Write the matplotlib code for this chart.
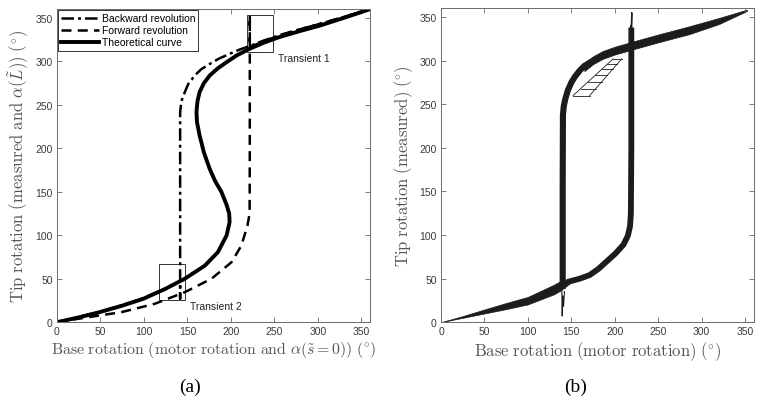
import numpy as np
import matplotlib
matplotlib.use('Agg')
import matplotlib.pyplot as plt
from matplotlib.patches import Rectangle

plt.rcParams['mathtext.fontset'] = 'cm'
plt.rcParams['font.family'] = 'Liberation Sans'

# ---- panel (a): theoretical curve and the two revolutions ----
theo_x = [0, 25, 49, 75, 99, 124, 147, 170, 185, 195, 198.5, 198, 195, 189, 182, 175.7,
          169, 164, 161, 160.4, 161.5, 164, 169, 175.7, 185, 195, 207, 221.7, 238, 256,
          280, 302, 330, 360]
theo_y = [0, 5.5, 11.5, 19, 26.8, 38, 50, 65, 80.5, 99.7, 115, 125, 135, 150, 162, 176,
          195, 214.7, 230, 241.6, 254, 264.7, 275, 283.8, 292, 299, 307, 314.5, 321.5, 328,
          335, 341, 350, 360]

back_x = [0, 25, 49, 75, 99, 124, 141.6, 141.6, 141.6, 141.6, 143, 147, 151, 158.5, 166,
          175.7, 186, 198.7, 210, 221.7, 238, 256, 280, 302, 330, 360]
back_y = [0, 6, 12, 19.5, 27.5, 38.5, 47, 27, 150, 241.6, 254, 264.7, 274, 283.8, 291,
          297, 303, 308.7, 313.5, 317.6, 324, 330, 337, 343, 351, 360]

fwd_x = [0, 35.7, 74, 112, 147, 177.7, 200.7, 212, 219, 221.5, 221.7, 221.7, 221.7,
         238, 256, 280, 302, 330, 360]
fwd_y = [0, 5.7, 11.5, 21, 34.5, 50, 69, 88, 111, 125, 200, 352.8, 316.5,
         323, 330, 337, 343, 351, 360]

transients = [(218, 311, 30, 42, 'Transient 1', 254, 304),
              (117, 25, 30, 42, 'Transient 2', 153, 19)]

# ---- panel (b): measured cycles (band envelopes and centre lines) ----
low_x = [0, 25, 50, 75, 100, 130, 137, 145, 150]
low_top = [0, 7, 14.6, 22, 29, 43, 47, 49, 50]
low_bot = [0, 5, 10, 15, 20.4, 32, 36, 42, 46]

up_x = [165, 175, 186, 200, 221, 250, 286, 320, 352]
up_top = [298, 305, 311, 316, 322, 330, 339.5, 349, 358.5]
up_bot = [288, 296, 302, 307, 313, 321, 330.5, 342, 357]

fwd_b_x = [145, 160, 171, 181, 191, 201, 210, 215, 217.5, 218.5, 219, 219]
fwd_b_y = [46, 50, 54, 61, 70, 79, 89, 99, 110, 125, 200, 338]
spike_b_x = [219, 219.5, 219, 218.5]
spike_b_y = [320, 355, 330, 340]

back_b_x = [172, 165, 159.6, 154, 150, 146, 143, 141.3, 140.3, 140, 140]
back_b_y = [298, 294, 288.6, 281.5, 275, 266, 256, 248, 238, 150, 38]
dip_b_x = [139, 139.5, 140, 141, 142]
dip_b_y = [40, 7, 30, 18, 35]

loop_left_x = [152, 198]
loop_left_y = [260, 302]
loop_right_x = [171, 208]
loop_right_y = [260, 302]
loop_rungs = [260, 268, 276, 283, 290, 296, 302]

ticks = [0, 50, 100, 150, 200, 250, 300, 350]
band = '#1c1c1c'


def style_axes(ax):
    ax.set_xlim(0, 360)
    ax.set_ylim(0, 360)
    ax.set_xticks(ticks)
    ax.set_yticks(ticks)
    for s in ax.spines.values():
        s.set_color('#6a6a6a')
        s.set_linewidth(0.7)
    ax.tick_params(direction='in', top=True, right=True, length=3.5, width=0.6,
                   color='#6a6a6a', labelsize=7.5, labelcolor='#3a3a3a', pad=3)


fig = plt.figure(figsize=(7.63, 4.06), dpi=100)
ax1 = fig.add_axes([0.0747, 0.204, 0.4103, 0.771])
ax2 = fig.add_axes([0.578, 0.204, 0.410, 0.773])

# panel (a)
ax1.plot(back_x, back_y, color='black', lw=1.8, ls=(0, (5, 1.6, 1.2, 1.6)),
         label='Backward revolution')
ax1.plot(fwd_x, fwd_y, color='black', lw=1.8, ls=(0, (4, 2.5)),
         label='Forward revolution')
ax1.plot(theo_x, theo_y, color='black', lw=2.8, label='Theoretical curve',
         solid_joinstyle='round')
for x0, y0, w, h, name, tx, ty in transients:
    ax1.add_patch(Rectangle((x0, y0), w, h, fill=False, ec='#333333', lw=0.7))
    ax1.text(tx, ty, name, fontsize=7.5, ha='left', va='center', color='#222222')
style_axes(ax1)
leg = ax1.legend(loc='upper left', fontsize=7.5, handlelength=3.6, handletextpad=0.3,
                 labelspacing=0.2, borderaxespad=0.1, borderpad=0.3, fancybox=False,
                 framealpha=1)
leg.get_frame().set_edgecolor('#333333')
leg.get_frame().set_linewidth(0.7)
ax1.set_xlabel(r'$\mathrm{Base\ rotation\ (motor\ rotation\ and\ }\alpha(\tilde{s}=0))\ (^{\circ})$',
               fontsize=11.4, color='#555555', labelpad=2)
ax1.set_ylabel(r'$\mathrm{Tip\ rotation\ (measured\ and\ }\alpha(\tilde{L}))\ (^{\circ})$',
               fontsize=12, color='#555555', labelpad=3)

# panel (b)
ax2.fill_between(low_x, low_bot, low_top, color=band, lw=0.5)
ax2.fill_between(up_x, up_bot, up_top, color=band, lw=0.5)
ax2.plot(fwd_b_x, fwd_b_y, color=band, lw=4.2, solid_capstyle='butt', solid_joinstyle='round')
ax2.plot(back_b_x, back_b_y, color=band, lw=4.4, solid_capstyle='butt', solid_joinstyle='round')
ax2.plot(spike_b_x, spike_b_y, color=band, lw=1.0)
ax2.plot(dip_b_x, dip_b_y, color=band, lw=0.8)
rung_l = np.interp(loop_rungs, loop_left_y, loop_left_x)
rung_r = np.interp(loop_rungs, loop_right_y, loop_right_x)
for y, xl, xr in zip(loop_rungs, rung_l, rung_r):
    ax2.plot([xl, xr], [y, y], color=band, lw=0.6)
ax2.plot(loop_right_x, loop_right_y, color=band, lw=0.6)
ax2.plot(loop_left_x, loop_left_y, color=band, lw=0.6)
style_axes(ax2)
ax2.set_xlabel(r'$\mathrm{Base\ rotation\ (motor\ rotation)\ (^{\circ})}$',
               fontsize=12, color='#555555', labelpad=2)
ax2.set_ylabel(r'$\mathrm{Tip\ rotation\ (measured)\ (^{\circ})}$',
               fontsize=12, color='#555555', labelpad=3)

fig.text(0.249, 0.047, '(a)', fontsize=14, family='Liberation Serif', ha='center', va='center')
fig.text(0.754, 0.047, '(b)', fontsize=14, family='Liberation Serif', ha='center', va='center')

fig.savefig('out.png', dpi=100)
